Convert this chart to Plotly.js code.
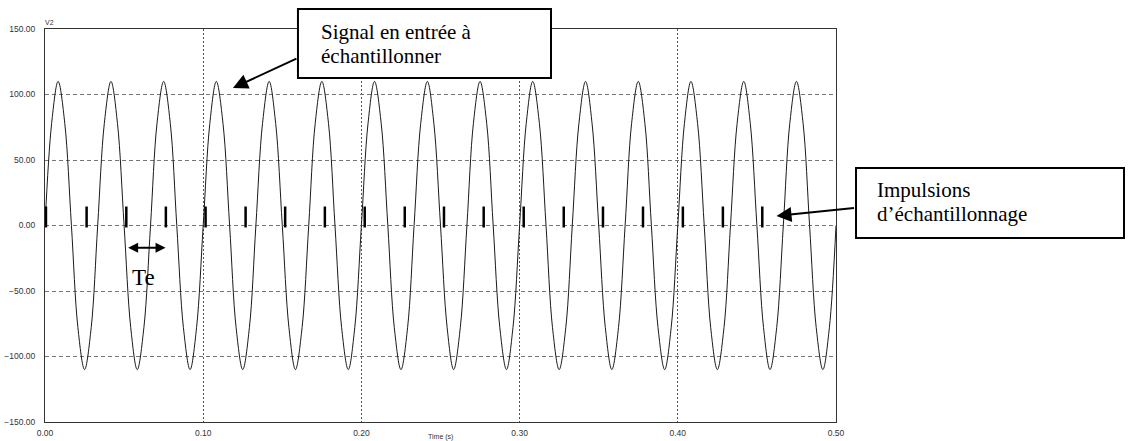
<!DOCTYPE html>
<html>
<head>
<meta charset="utf-8">
<script src="https://cdn.plot.ly/plotly-3.0.1.min.js"></script>
<style>html,body{margin:0;padding:0;background:#fff;}#chart{width:1128px;height:441px;}</style>
</head>
<body>
<div id="chart"></div>
<script>
// Signal (V2): points at every 1/8 of a period
const signalTime = [
  0.0000, 0.0042, 0.0083, 0.0125, 0.0167, 0.0208, 0.0250, 0.0292,
  0.0333, 0.0375, 0.0417, 0.0458, 0.0500, 0.0542, 0.0583, 0.0625,
  0.0667, 0.0708, 0.0750, 0.0792, 0.0833, 0.0875, 0.0917, 0.0958,
  0.1000, 0.1042, 0.1083, 0.1125, 0.1167, 0.1208, 0.1250, 0.1292,
  0.1333, 0.1375, 0.1417, 0.1458, 0.1500, 0.1542, 0.1583, 0.1625,
  0.1667, 0.1708, 0.1750, 0.1792, 0.1833, 0.1875, 0.1917, 0.1958,
  0.2000, 0.2042, 0.2083, 0.2125, 0.2167, 0.2208, 0.2250, 0.2292,
  0.2333, 0.2375, 0.2417, 0.2458, 0.2500, 0.2542, 0.2583, 0.2625,
  0.2667, 0.2708, 0.2750, 0.2792, 0.2833, 0.2875, 0.2917, 0.2958,
  0.3000, 0.3042, 0.3083, 0.3125, 0.3167, 0.3208, 0.3250, 0.3292,
  0.3333, 0.3375, 0.3417, 0.3458, 0.3500, 0.3542, 0.3583, 0.3625,
  0.3667, 0.3708, 0.3750, 0.3792, 0.3833, 0.3875, 0.3917, 0.3958,
  0.4000, 0.4042, 0.4083, 0.4125, 0.4167, 0.4208, 0.4250, 0.4292,
  0.4333, 0.4375, 0.4417, 0.4458, 0.4500, 0.4542, 0.4583, 0.4625,
  0.4667, 0.4708, 0.4750, 0.4792, 0.4833, 0.4875, 0.4917, 0.4958,
  0.5000
];
const signalValue = [
  0, 78, 110, 78, 0, -78, -110, -78,
  0, 78, 110, 78, 0, -78, -110, -78,
  0, 78, 110, 78, 0, -78, -110, -78,
  0, 78, 110, 78, 0, -78, -110, -78,
  0, 78, 110, 78, 0, -78, -110, -78,
  0, 78, 110, 78, 0, -78, -110, -78,
  0, 78, 110, 78, 0, -78, -110, -78,
  0, 78, 110, 78, 0, -78, -110, -78,
  0, 78, 110, 78, 0, -78, -110, -78,
  0, 78, 110, 78, 0, -78, -110, -78,
  0, 78, 110, 78, 0, -78, -110, -78,
  0, 78, 110, 78, 0, -78, -110, -78,
  0, 78, 110, 78, 0, -78, -110, -78,
  0, 78, 110, 78, 0, -78, -110, -78,
  0, 78, 110, 78, 0, -78, -110, -78,
  0
];
// Sampling pulses (times)
const pulseTime = [0.0006, 0.0263, 0.0514, 0.0764, 0.1015, 0.1268, 0.1518, 0.1769, 0.2021, 0.2274,
                   0.2522, 0.2773, 0.3026, 0.3279, 0.3527, 0.3780, 0.4032, 0.4285, 0.4534];
const pulseLow = -1.5;
const pulseHigh = 14.5;

const xTicks = [0, 0.1, 0.2, 0.3, 0.4, 0.5];
const yTicks = [-150, -100, -50, 0, 50, 100, 150];

// Build pulse segments
const px = [], py = [];
pulseTime.forEach(t => { px.push(t, t, null); py.push(pulseLow, pulseHigh, null); });

const traces = [
  {x: signalTime, y: signalValue, type: 'scatter', mode: 'lines',
   line: {color: '#1a1a1a', width: 1, shape: 'spline', smoothing: 1}, hoverinfo: 'skip'},
  {x: px, y: py, type: 'scatter', mode: 'lines',
   line: {color: '#000', width: 2.5}, hoverinfo: 'skip'}
];

const tickFont = {family: 'Liberation Sans, Arial, sans-serif', size: 8.5, color: '#333'};
const serif = 'Liberation Serif, Times New Roman, serif';
const boxFont = {family: serif, size: 21, color: '#000'};

const layout = {
  width: 1128, height: 441,
  margin: {l: 45, r: 292, t: 29, b: 19, pad: 0},
  paper_bgcolor: '#fff', plot_bgcolor: '#fff',
  showlegend: false,
  xaxis: {range: [0, 0.5], tickvals: xTicks, tickformat: '.2f', ticks: '',
          showgrid: true, gridcolor: '#555', griddash: '2px,2px', gridwidth: 1,
          zeroline: false, showline: true, mirror: true, linecolor: '#333', linewidth: 1,
          tickfont: tickFont, ticklabelstandoff: 3},
  yaxis: {range: [-150, 150], tickvals: yTicks, tickformat: '.2f', ticks: '',
          showgrid: true, gridcolor: '#777', griddash: '4px,3px', gridwidth: 1,
          zeroline: false, showline: true, mirror: true, linecolor: '#333', linewidth: 1,
          tickfont: tickFont, ticklabelstandoff: 7},
  shapes: [
    {type: 'rect', xref: 'paper', yref: 'paper', x0: 0.3198, x1: 0.6397, y0: 0.8753, y1: 1.0509,
     line: {color: '#000', width: 2}, fillcolor: '#fff', layer: 'above'},
    {type: 'rect', xref: 'paper', yref: 'paper', x0: 1.0253, x1: 1.3641, y0: 0.4682, y1: 0.6463,
     line: {color: '#000', width: 2}, fillcolor: '#fff', layer: 'above'}
  ],
  annotations: [
    {xref: 'paper', yref: 'paper', x: -0.0025, y: 1.0178, xanchor: 'left', yanchor: 'middle',
     text: 'V2', showarrow: false, font: {family: 'Liberation Sans, Arial, sans-serif', size: 7, color: '#333'}},
    {xref: 'paper', yref: 'paper', x: 0.5, y: -0.038, xanchor: 'center', yanchor: 'middle',
     text: 'Time (s)', showarrow: false, font: {family: 'Liberation Sans, Arial, sans-serif', size: 7, color: '#333'}},
    {xref: 'paper', yref: 'paper', x: 0.3464, y: 0.9924, xanchor: 'left', yanchor: 'middle',
     text: 'Signal en entrée à', showarrow: false, font: boxFont},
    {xref: 'paper', yref: 'paper', x: 0.3464, y: 0.9313, xanchor: 'left', yanchor: 'middle',
     text: 'échantillonner', showarrow: false, font: boxFont},
    {xref: 'paper', yref: 'paper', x: 1.0493, y: 0.5903, xanchor: 'left', yanchor: 'middle',
     text: 'Impulsions', showarrow: false, font: boxFont},
    {xref: 'paper', yref: 'paper', x: 1.0493, y: 0.5293, xanchor: 'left', yanchor: 'middle',
     text: 'd’échantillonnage', showarrow: false, font: boxFont},
    {xref: 'x', yref: 'y', x: 0.1188, y: 105, ax: 65, ay: -30, text: '', showarrow: true,
     arrowhead: 2, arrowsize: 1.5, arrowwidth: 2, arrowcolor: '#000'},
    {xref: 'x', yref: 'y', x: 0.4624, y: 7.3, ax: 79, ay: -8, text: '', showarrow: true,
     arrowhead: 2, arrowsize: 1.5, arrowwidth: 2, arrowcolor: '#000'},
    {xref: 'x', yref: 'y', x: 0.0762, y: -17, axref: 'x', ayref: 'y', ax: 0.0516, ay: -17, text: '',
     showarrow: true, arrowside: 'end+start', arrowhead: 2, startarrowhead: 2, arrowsize: 1, startarrowsize: 1,
     arrowwidth: 2, arrowcolor: '#000'},
    {xref: 'x', yref: 'y', x: 0.0622, y: -40, xanchor: 'center', yanchor: 'middle', text: 'Te',
     showarrow: false, font: {family: serif, size: 23, color: '#000'}}
  ]
};

Plotly.newPlot('chart', traces, layout, {displayModeBar: false, staticPlot: true});
</script>
</body>
</html>
